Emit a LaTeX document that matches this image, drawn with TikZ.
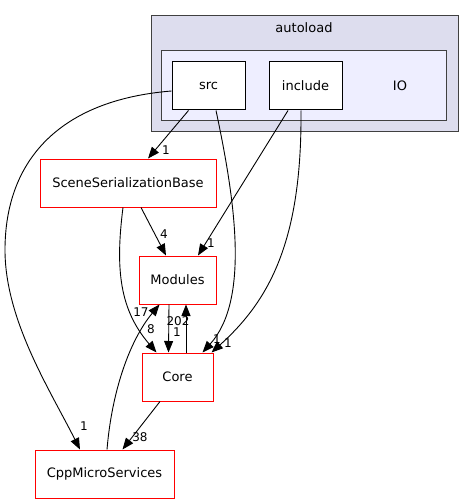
\documentclass[tikz,border=0pt]{standalone}
\usepackage{fontspec}
\setmainfont{DejaVu Sans}
\usetikzlibrary{positioning}
\usetikzlibrary{arrows.meta}

\definecolor{outerfill}{HTML}{DDDDEE}
\definecolor{innerfill}{HTML}{EEEEFF}
\definecolor{clusterline}{HTML}{404040}

\tikzset{
    dirnode/.style={draw=red, fill=white, line width=1pt, minimum width=#1, minimum height=48pt, inner sep=0pt, font=\fontsize{13}{15}\selectfont},
    subdir/.style={draw=black, fill=white, line width=1pt, minimum width=73pt, minimum height=48pt, inner sep=0pt, font=\fontsize{13}{15}\selectfont},
    cluster/.style={draw=clusterline, line width=1pt},
    dep/.style={-{Triangle[length=11.5pt,width=9pt]}, line width=0.9pt},
    deplabel/.style={font=\fontsize{12}{14}\selectfont, inner sep=0pt},
}

\begin{document}
\begin{tikzpicture}[x=1pt, y=-1pt]
    \useasboundingbox (0,0) rectangle (474,500);

    \draw[cluster, fill=outerfill] (151,16) rectangle (458,131);
    \draw[cluster, fill=innerfill] (161,51) rectangle (446,120);
    \node[font=\fontsize{13}{15}\selectfont] (autoload) at (304,28) {autoload};
    \node[font=\fontsize{13}{15}\selectfont] (io) at (400,86) {IO};

    \node[subdir] (src) at (208.5,86) {src};
    \node[subdir, right=23pt of src] (include) {include};

    \node[dirnode=176pt, below=48pt of src, xshift=-80.5pt] (ssb) {SceneSerializationBase};
    \node[dirnode=77pt, below=48pt of ssb, xshift=49.5pt] (modules) {Modules};
    \node[dirnode=71pt, below=48pt of modules] (core) {Core};
    \node[dirnode=139pt, below=48pt of core, xshift=-73pt] (cpp) {CppMicroServices};

    \draw[dep] ([xshift=-20pt]src.south) -- ([xshift=20pt]ssb.north);
    \draw[dep] ([yshift=-5pt]src.west) .. controls (60,100) and (5,160) .. (5,250) .. controls (5,320) and (50,390) .. ([xshift=-24.5pt]cpp.north);
    \draw[dep] ([xshift=7.5pt]src.south) .. controls (235,200) and (250,300) .. ([xshift=25pt]core.north);
    \draw[dep] ([xshift=-17.5pt]include.south) -- ([xshift=20.5pt]modules.north);
    \draw[dep] ([xshift=-4.5pt]include.south) .. controls (302,240) and (270,300) .. ([xshift=34pt]core.north);
    \draw[dep] ([xshift=13pt]ssb.south) -- ([xshift=-11.5pt]modules.north);
    \draw[dep] ([xshift=-5pt]ssb.south) .. controls (115,270) and (120,310) .. ([xshift=-21pt]core.north);
    \draw[dep] ([xshift=-8.5pt]modules.south) -- ([xshift=-9pt]core.north);
    \draw[dep] ([xshift=8.5pt]core.north) -- ([xshift=8.5pt]modules.south);
    \draw[dep] ([xshift=2.5pt]cpp.north) .. controls (112,390) and (130,340) .. ([xshift=-18pt]modules.south);
    \draw[dep] ([xshift=-17.5pt]core.south) -- ([xshift=18pt]cpp.north);

    \node[deplabel] (l-src-ssb) at (166,150) {1};
    \node[deplabel] (l-src-cpp) at (84,426) {1};
    \node[deplabel] (l-src-core) at (217,339) {1};
    \node[deplabel] (l-inc-mod) at (211,243) {1};
    \node[deplabel] (l-inc-core) at (228,343) {1};
    \node[deplabel] (l-ssb-mod) at (164,234) {4};
    \node[deplabel] (l-ssb-core) at (151,329) {8};
    \node[deplabel] (l-mod-core) at (178,321) {202};
    \node[deplabel] (l-core-mod) at (177,332) {1};
    \node[deplabel] (l-cpp-mod) at (141,312) {17};
    \node[deplabel] (l-core-cpp) at (140,437) {38};
\end{tikzpicture}
\end{document}
